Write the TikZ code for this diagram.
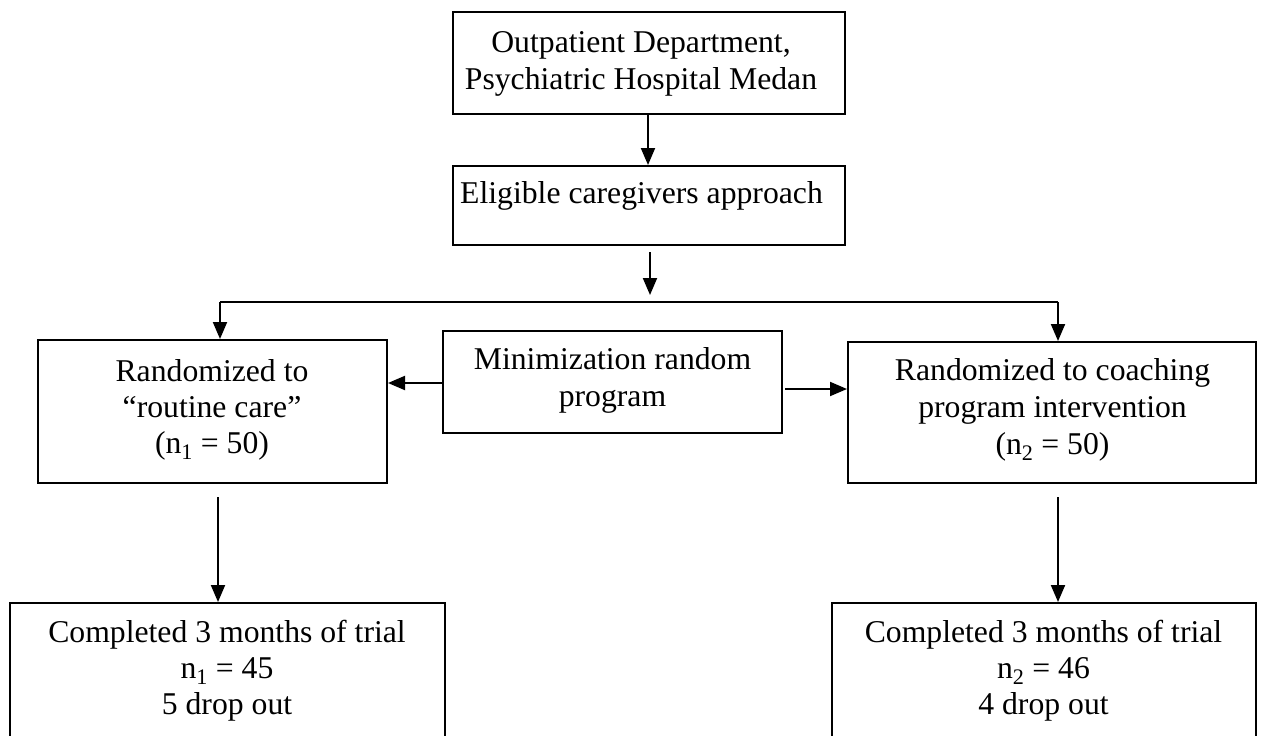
\documentclass[tikz,border=0pt]{standalone}
\usepackage{fontspec}
\setmainfont{Liberation Serif}
\usetikzlibrary{arrows.meta}
\tikzset{
  box/.style={draw=black, line width=2pt, rectangle, inner sep=0pt},
  txt/.style={align=center, inner sep=0pt, anchor=base, font=\fontsize{31.7}{36.5}\selectfont},
  conn/.style={line width=2pt, -{Triangle[length=17pt,width=14pt]}},
  line/.style={line width=2pt}
}
\begin{document}
\begin{tikzpicture}[x=1pt,y=-1pt]
\useasboundingbox (0,0) rectangle (1262,736);
% boxes
\node[box, minimum width=392pt, minimum height=102pt] (b1) at (649,63) {};
\node[box, minimum width=392pt, minimum height=79pt] (b2) at (649,205.5) {};
\node[box, minimum width=349pt, minimum height=143pt] (b3) at (212.5,411.5) {};
\node[box, minimum width=339pt, minimum height=102pt] (b4) at (612.5,382) {};
\node[box, minimum width=408pt, minimum height=141pt] (b5) at (1052,412.5) {};
\node[box, minimum width=435pt, minimum height=140pt] (b6) at (227.5,673) {};
\node[box, minimum width=424pt, minimum height=140pt] (b7) at (1044,673) {};
% texts
\node[txt] (t1a) at (641,52) {Outpatient Department,};
\node[txt] (t1b) at (641,89) {Psychiatric Hospital Medan};
\node[txt] (t2) at (641.5,203) {Eligible caregivers approach};
\node[txt] (t3a) at (212,381) {Randomized to};
\node[txt] (t3b) at (212,417) {“routine care”};
\node[txt] (t3c) at (212,453) {(n\textsubscript{1} = 50)};
\node[txt] (t4a) at (612.5,369) {Minimization random};
\node[txt] (t4b) at (612.5,406) {program};
\node[txt] (t5a) at (1052.5,380) {Randomized to coaching};
\node[txt] (t5b) at (1052.5,417) {program intervention};
\node[txt] (t5c) at (1052.5,454) {(n\textsubscript{2} = 50)};
\node[txt] (t6a) at (227,642) {Completed 3 months of trial};
\node[txt] (t6b) at (227,678) {n\textsubscript{1} = 45};
\node[txt] (t6c) at (227,714) {5 drop out};
\node[txt] (t7a) at (1043.5,642) {Completed 3 months of trial};
\node[txt] (t7b) at (1043.5,678) {n\textsubscript{2} = 46};
\node[txt] (t7c) at (1043.5,714) {4 drop out};
% coordinates
\coordinate (a2s) at (650,252);
\coordinate (a2e) at (650,295);
\coordinate (sl) at (220,302);
\coordinate (sr) at (1058,302);
\coordinate (d1s) at (218,497);
\coordinate (d2s) at (1058,497);
% connectors
\draw[conn] (b1.south -| 648,0) -- (b2.north -| 648,0);
\draw[conn] (a2s) -- (a2e);
\draw[line] (sl) -- (sr);
\draw[conn] (sl) -- (b3.north -| sl);
\draw[conn] (sr) -- (b5.north -| sr);
\draw[conn] (b4.west |- 0,383) -- (b3.east |- 0,383);
\draw[conn] (785,389) -- (b5.west |- 0,389);
\draw[conn] (d1s) -- (b6.north -| d1s);
\draw[conn] (d2s) -- (b7.north -| d2s);
\end{tikzpicture}
\end{document}
